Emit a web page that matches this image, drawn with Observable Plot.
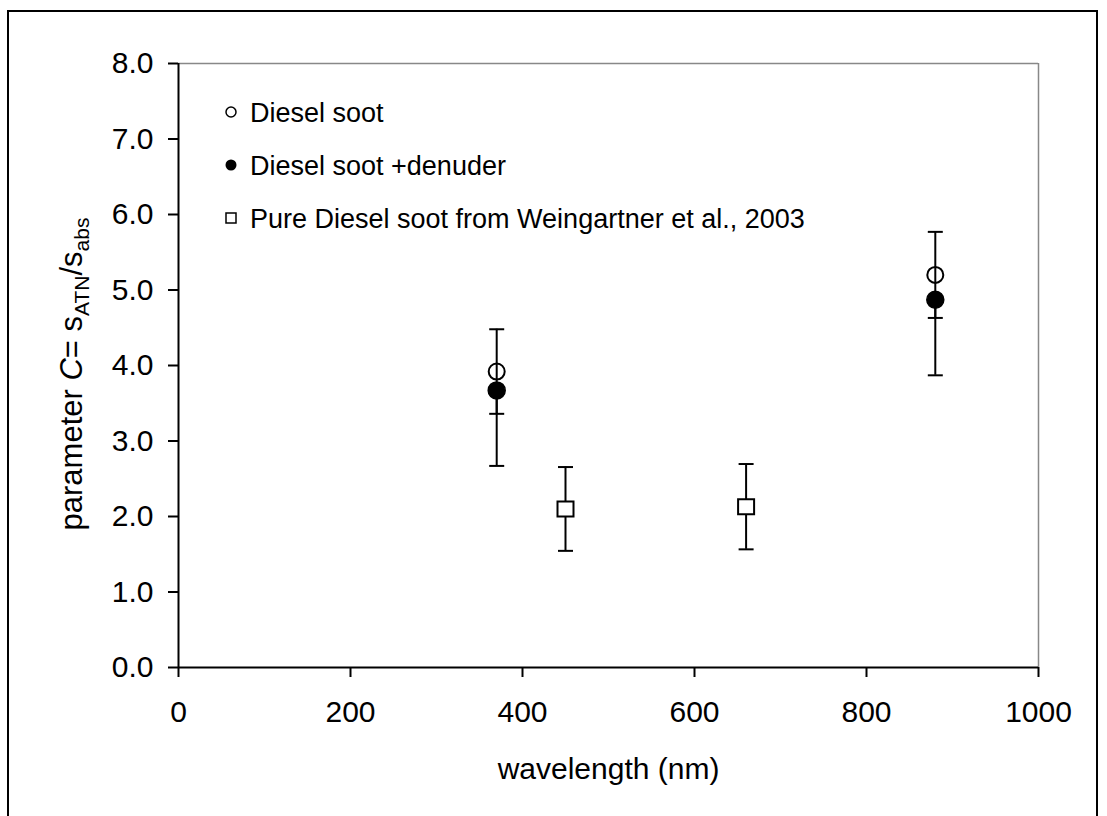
<!DOCTYPE html>
<html>
<head>
<meta charset="utf-8">
<script src="https://cdn.jsdelivr.net/npm/d3@7"></script>
<script src="https://cdn.jsdelivr.net/npm/@observablehq/plot@0.6"></script>
<style>
  html, body { margin: 0; padding: 0; background: #fff; overflow: hidden; }
  #wrap { position: relative; width: 1107px; height: 816px; }
  #frame { position: absolute; left: 7px; top: 10px; width: 1091px; height: 830px; border: 2px solid #000; box-sizing: border-box; pointer-events: none; }
  #chart { position: absolute; left: 0; top: 0; }
</style>
</head>
<body>
<div id="wrap"><div id="chart"></div><div id="frame"></div></div>
<script>
// ---- data ----
const seriesNames = ["Diesel soot", "Diesel soot +denuder", "Pure Diesel soot from Weingartner et al., 2003"];
const sootWavelength = [370, 880];
const sootC = [3.92, 5.20];
const sootErr = [0.56, 0.57];
const denuderWavelength = [370, 880];
const denuderC = [3.67, 4.87];
const denuderErrLow = [1.0, 1.0];
const pureWavelength = [450, 660];
const pureC = [2.10, 2.13];
const pureErr = [0.555, 0.565];
const xTicks = [0, 200, 400, 600, 800, 1000];
const yTicks = [0, 1, 2, 3, 4, 5, 6, 7, 8];
const xLabel = "wavelength (nm)";

// ---- tables ----
const soot = sootWavelength.map((x, i) => ({x, y: sootC[i], lo: sootC[i] - sootErr[i], hi: sootC[i] + sootErr[i]}));
const denuder = denuderWavelength.map((x, i) => ({x, y: denuderC[i], lo: denuderC[i] - denuderErrLow[i], hi: denuderC[i]}));
const pure = pureWavelength.map((x, i) => ({x, y: pureC[i], lo: pureC[i] - pureErr[i], hi: pureC[i] + pureErr[i]}));
const bars = [...soot, ...denuder, ...pure];
const caps = [
  ...soot.flatMap(d => [{x: d.x, y: d.lo}, {x: d.x, y: d.hi}]),
  ...denuder.map(d => ({x: d.x, y: d.lo})),
  ...pure.flatMap(d => [{x: d.x, y: d.lo}, {x: d.x, y: d.hi}])
];
const capSymbol = {draw(ctx) { ctx.moveTo(-7.5, 0); ctx.lineTo(7.5, 0); }};
const squareSymbol = {draw(ctx) { ctx.rect(-8, -7.5, 16, 15); }};

const plot = Plot.plot({
  width: 1107,
  height: 816,
  marginLeft: 178,
  marginRight: 69,
  marginTop: 63,
  marginBottom: 149,
  style: {fontFamily: "'Liberation Sans', Arial, sans-serif", fontSize: "30px", color: "#000", background: "transparent", overflow: "visible"},
  x: {domain: [0, 1000]},
  y: {domain: [0, 8]},
  marks: [
    Plot.ruleY([8], {stroke: "#888", strokeWidth: 1.5}),
    Plot.ruleX([1000], {stroke: "#888", strokeWidth: 1.5}),
    Plot.axisX({ticks: xTicks, tickSize: 10, tickPadding: 23, tickFormat: d3.format("d"), label: null, strokeWidth: 2}),
    Plot.axisY({ticks: yTicks, tickSize: 10, tickPadding: 15, tickFormat: d3.format(".1f"), label: null, strokeWidth: 2}),
    Plot.ruleY([0], {stroke: "#000", strokeWidth: 2}),
    Plot.ruleX([0], {stroke: "#000", strokeWidth: 2}),
    Plot.text([xLabel], {frameAnchor: "bottom", dy: 111, fontSize: 30, text: d => d}),
    Plot.ruleX(bars, {x: "x", y1: "lo", y2: "hi", stroke: "#000", strokeWidth: 2}),
    Plot.dot(caps, {x: "x", y: "y", symbol: capSymbol, stroke: "#000", strokeWidth: 2, fill: "none"}),
    Plot.dot(soot, {x: "x", y: "y", r: 8, fill: "none", stroke: "#000", strokeWidth: 2}),
    Plot.dot(denuder, {x: "x", y: "y", r: 8.5, fill: "#000", stroke: "#000"}),
    Plot.dot(pure, {x: "x", y: "y", symbol: squareSymbol, fill: "#fff", stroke: "#000", strokeWidth: 2})
  ]
});
document.getElementById("chart").appendChild(plot);

const svg = d3.select(plot);
// y-axis title with italic C and subscripts
const yt = svg.append("text")
  .attr("transform", "translate(82,374) rotate(-90)")
  .attr("text-anchor", "middle")
  .attr("font-size", 31)
  .attr("fill", "#000");
yt.append("tspan").text("parameter ");
yt.append("tspan").attr("font-style", "italic").text("C");
yt.append("tspan").text("= s");
yt.append("tspan").attr("font-size", 21).attr("dy", 7).text("ATN");
yt.append("tspan").attr("dy", -7).text("/s");
yt.append("tspan").attr("font-size", 21).attr("dy", 7).text("abs");

// legend
const lg = svg.append("g").attr("font-size", 27).attr("fill", "#000").attr("text-anchor", "start");
const rows = [112, 165, 218];
lg.append("circle").attr("cx", 231).attr("cy", rows[0]).attr("r", 5).attr("fill", "none").attr("stroke", "#000").attr("stroke-width", 1.5);
lg.append("circle").attr("cx", 231).attr("cy", rows[1]).attr("r", 5.5).attr("fill", "#000");
lg.append("rect").attr("x", 226).attr("y", rows[2] - 5).attr("width", 10).attr("height", 10).attr("fill", "none").attr("stroke", "#000").attr("stroke-width", 1.5);
seriesNames.forEach((name, i) => {
  lg.append("text").attr("x", 250).attr("y", rows[i]).attr("dy", "0.36em").attr("text-anchor", "start").text(name);
});
</script>
</body>
</html>
